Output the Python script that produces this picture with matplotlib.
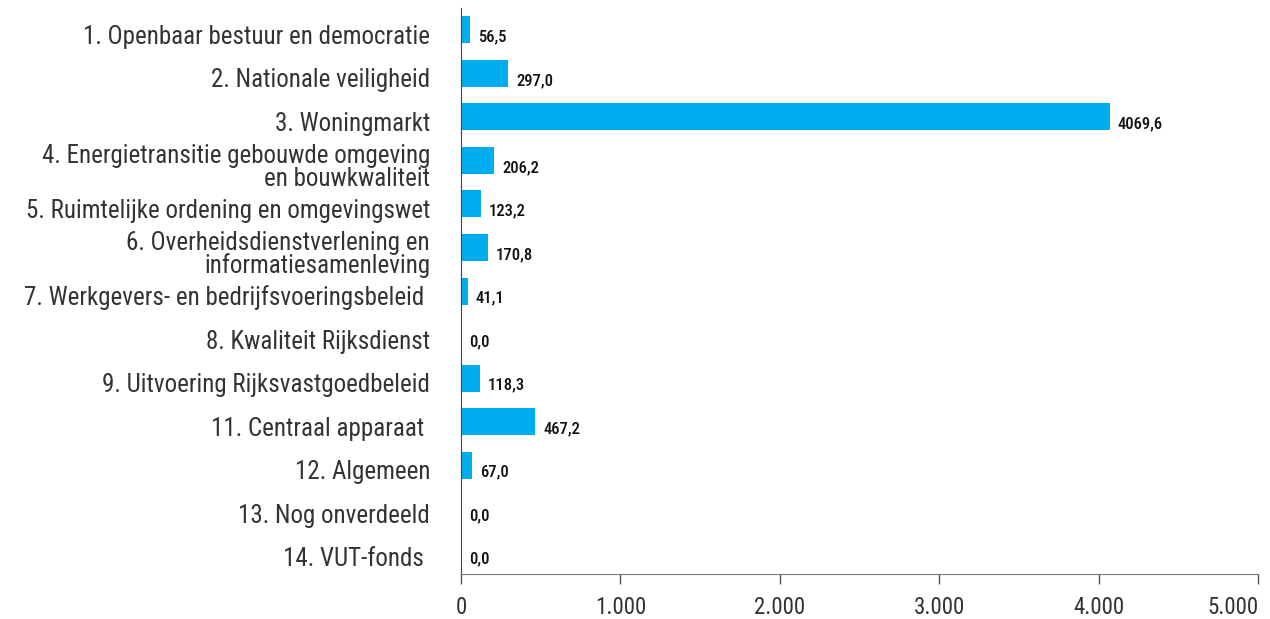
import matplotlib.pyplot as plt
from matplotlib import font_manager
import matplotlib.transforms as mtransforms

categories = [
    '1. Openbaar bestuur en democratie',
    '2. Nationale veiligheid',
    '3. Woningmarkt',
    '4. Energietransitie gebouwde omgeving\nen bouwkwaliteit',
    '5. Ruimtelijke ordening en omgevingswet',
    '6. Overheidsdienstverlening en\ninformatiesamenleving',
    '7. Werkgevers- en bedrijfsvoeringsbeleid ',
    '8. Kwaliteit Rijksdienst',
    '9. Uitvoering Rijksvastgoedbeleid',
    '11. Centraal apparaat ',
    '12. Algemeen',
    '13. Nog onverdeeld',
    '14. VUT-fonds ',
]
values = [56.5, 297.0, 4069.6, 206.2, 123.2, 170.8, 41.1, 0.0, 118.3, 467.2, 67.0, 0.0, 0.0]
xticks = [0, 1000, 2000, 3000, 4000, 5000]
xtick_labels = ['0', '1.000', '2.000', '3.000', '4.000', '5.000']

# look for a condensed face, the original uses a narrow sans
names = {f.name for f in font_manager.fontManager.ttflist}
fam = 'Liberation Sans'
narrow = False
for cand in ['Roboto Condensed', 'Liberation Sans Narrow', 'Open Sans Condensed']:
    if cand in names:
        fam = cand
        narrow = True
        break
plt.rcParams['font.family'] = [fam, 'DejaVu Sans']

lab_size = 18 if narrow else 15.5
tick_size = 16.5 if narrow else 15
num_size = 12 if narrow else 10.5

fig = plt.figure(figsize=(12.7, 6.19), dpi=100)
ax = fig.add_axes([0.363, 0.0727, 0.6276, 0.9143])

y = list(range(len(categories)))
ax.barh(y, values, height=0.62, color='#00aeef')
ax.set_ylim(len(categories) - 0.5, -0.5)
ax.set_xlim(0, 5000)

# value labels right of the bars
down = mtransforms.offset_copy(ax.transData, fig=fig, x=8, y=-7, units='dots')
for yi, v in zip(y, values):
    ax.text(v, yi, f'{v:.1f}'.replace('.', ','), transform=down,
            ha='left', va='center', fontsize=num_size, fontweight='medium', color='#111111')

# category labels, drawn as text so they can sit a bit below the bar centre
ax.set_yticks([])
cat_tr = mtransforms.offset_copy(ax.get_yaxis_transform(), fig=fig, x=-31, y=-7, units='dots')
for yi, c in zip(y, categories):
    ax.text(0, yi, c, transform=cat_tr, ha='right', va='center', multialignment='right',
            fontsize=lab_size, color='#333333', linespacing=0.92)

ax.set_xticks(xticks)
ax.set_xticklabels(xtick_labels, fontsize=tick_size, color='#333333')
last = ax.get_xticklabels()[-1]
last.set_horizontalalignment('right')
last.set_transform(last.get_transform() + mtransforms.ScaledTranslation(4 / 100, 0, fig.dpi_scale_trans))
ax.tick_params(axis='x', direction='out', length=7, width=1, color='#555555', pad=9)

for s in ['top', 'right']:
    ax.spines[s].set_visible(False)
ax.spines['left'].set_color('#444444')
ax.spines['bottom'].set_color('#777777')

fig.savefig('out.png', dpi=100)
